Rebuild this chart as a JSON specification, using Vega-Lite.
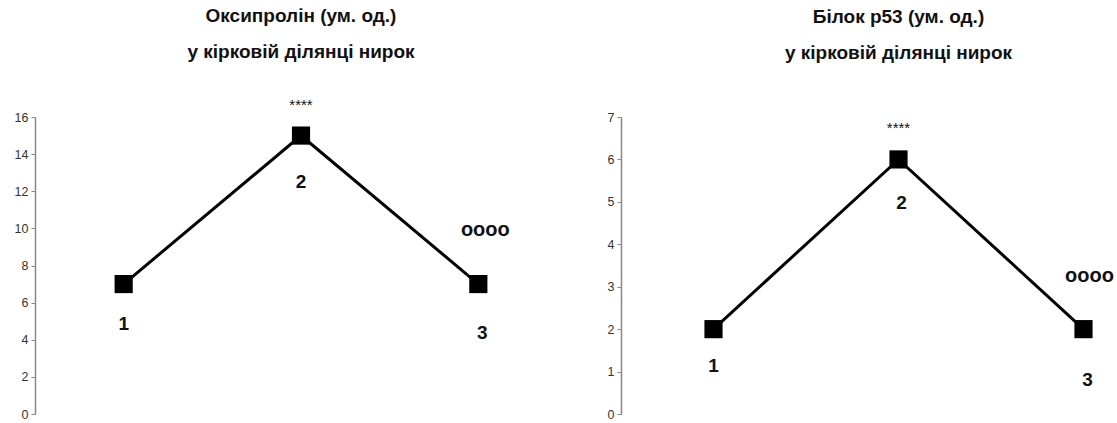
{
  "$schema": "https://vega.github.io/schema/vega-lite/v6.json",
  "background": "white",
  "padding": {"left": 14, "top": 6, "right": 0, "bottom": 0},
  "spacing": 40,
  "config": {
    "view": {"stroke": null},
    "font": "Liberation Sans",
    "axis": {"grid": false, "domainColor": "#888888", "tickColor": "#888888", "tickSize": 4, "labelFontSize": 12.5, "labelColor": "#333333", "labelFont": "Liberation Sans", "labelPadding": 3, "title": null, "domainWidth": 1.5},
    "title": {"fontSize": 19, "fontWeight": "bold", "font": "Liberation Sans", "color": "#111111", "lineHeight": 36, "anchor": "middle", "offset": 36}
  },
  "datasets": {
    "oxy": [
      {"group": 1, "value": 7, "label": "1", "note": ""},
      {"group": 2, "value": 15, "label": "2", "note": "****"},
      {"group": 3, "value": 7, "label": "3", "note": "oooo"}
    ],
    "p53": [
      {"group": 1, "value": 2, "label": "1", "note": ""},
      {"group": 2, "value": 6, "label": "2", "note": "****"},
      {"group": 3, "value": 2, "label": "3", "note": "oooo"}
    ]
  },
  "hconcat": [
    {
      "width": 532,
      "height": 297,
      "title": {"text": ["Оксипролін (ум. од.)", "у кірковій ділянці нирок"]},
      "data": {"name": "oxy"},
      "encoding": {
        "x": {"field": "group", "type": "quantitative", "scale": {"domain": [0.5, 3.5]}, "axis": null},
        "y": {"field": "value", "type": "quantitative", "scale": {"domain": [0, 16]}, "axis": {"values": [0, 2, 4, 6, 8, 10, 12, 14, 16]}}
      },
      "layer": [
        {"mark": {"type": "line", "color": "black", "strokeWidth": 3}},
        {"mark": {"type": "point", "shape": "square", "filled": true, "color": "black", "size": 330, "opacity": 1}},
        {"transform": [{"filter": "datum.label == '1'"}], "mark": {"type": "text", "fontSize": 19, "fontWeight": "bold", "dy": 40, "color": "#111111"}, "encoding": {"text": {"field": "label"}}},
        {"transform": [{"filter": "datum.label == '2'"}], "mark": {"type": "text", "fontSize": 19, "fontWeight": "bold", "dy": 46, "color": "#111111"}, "encoding": {"text": {"field": "label"}}},
        {"transform": [{"filter": "datum.label == '3'"}], "mark": {"type": "text", "fontSize": 19, "fontWeight": "bold", "dy": 49, "dx": 4, "color": "#111111"}, "encoding": {"text": {"field": "label"}}},
        {"transform": [{"filter": "datum.note == '****'"}], "mark": {"type": "text", "fontSize": 15, "dy": -31, "color": "#111111"}, "encoding": {"text": {"field": "note"}}},
        {"transform": [{"filter": "datum.note == 'oooo'"}], "mark": {"type": "text", "fontSize": 20, "fontWeight": "bold", "dy": -54, "dx": 7, "color": "#111111"}, "encoding": {"text": {"field": "note"}}}
      ]
    },
    {
      "width": 481,
      "height": 297,
      "title": {"text": ["Білок р53 (ум. од.)", "у кірковій ділянці нирок"], "dx": 37, "offset": 48},
      "data": {"name": "p53"},
      "encoding": {
        "x": {"field": "group", "type": "quantitative", "scale": {"domain": [0.5, 3.1]}, "axis": null},
        "y": {"field": "value", "type": "quantitative", "scale": {"domain": [0, 7]}, "axis": {"values": [0, 1, 2, 3, 4, 5, 6, 7]}}
      },
      "layer": [
        {"mark": {"type": "line", "color": "black", "strokeWidth": 3}},
        {"mark": {"type": "point", "shape": "square", "filled": true, "color": "black", "size": 330, "opacity": 1}},
        {"transform": [{"filter": "datum.label == '1'"}], "mark": {"type": "text", "fontSize": 19, "fontWeight": "bold", "dy": 37, "color": "#111111"}, "encoding": {"text": {"field": "label"}}},
        {"transform": [{"filter": "datum.label == '2'"}], "mark": {"type": "text", "fontSize": 19, "fontWeight": "bold", "dy": 44, "dx": 3, "color": "#111111"}, "encoding": {"text": {"field": "label"}}},
        {"transform": [{"filter": "datum.label == '3'"}], "mark": {"type": "text", "fontSize": 19, "fontWeight": "bold", "dy": 51, "dx": 4, "color": "#111111"}, "encoding": {"text": {"field": "label"}}},
        {"transform": [{"filter": "datum.note == '****'"}], "mark": {"type": "text", "fontSize": 15, "dy": -31, "color": "#111111"}, "encoding": {"text": {"field": "note"}}},
        {"transform": [{"filter": "datum.note == 'oooo'"}], "mark": {"type": "text", "fontSize": 20, "fontWeight": "bold", "dy": -53, "dx": 6, "color": "#111111"}, "encoding": {"text": {"field": "note"}}}
      ]
    }
  ]
}
